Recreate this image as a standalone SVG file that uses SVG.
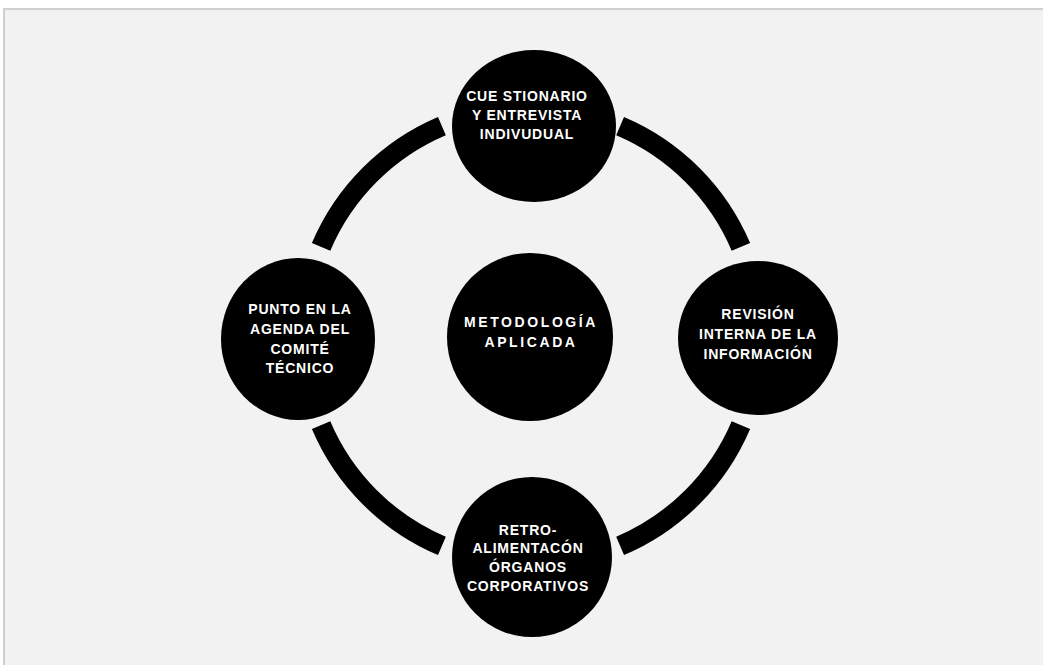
<svg xmlns="http://www.w3.org/2000/svg" width="1043" height="665" viewBox="0 0 1043 665">
<defs>
<style>
.node{fill:#000000;}
.lbl{font-family:"Liberation Sans",Arial,sans-serif;font-size:14px;font-weight:bold;fill:#ffffff;text-anchor:middle;letter-spacing:0.8px;}
.ctr{font-family:"Liberation Sans",Arial,sans-serif;font-size:14px;font-weight:bold;fill:#ffffff;text-anchor:middle;letter-spacing:2.6px;}
.arc{fill:none;stroke:#000000;stroke-width:20;stroke-linecap:butt;}
</style>
</defs>
<rect x="0" y="0" width="1043" height="665" fill="#ffffff"/>
<rect x="4" y="9" width="1045" height="660" fill="#f2f2f2" stroke="#cfcfcf" stroke-width="2"/>
<g id="connectors">
<path class="arc" d="M 740.9 425.1 A 228 228 0 0 1 620.1 545.9"/>
<path class="arc" d="M 441.9 545.9 A 228 228 0 0 1 321.1 425.1"/>
<path class="arc" d="M 321.1 246.9 A 228 228 0 0 1 441.9 126.1"/>
<path class="arc" d="M 620.1 126.1 A 228 228 0 0 1 740.9 246.9"/>
</g>
<g id="node-center">
<ellipse class="node" cx="530" cy="337" rx="83" ry="84"/>
<text class="ctr" x="531" y="327">METODOLOGÍA</text>
<text class="ctr" x="531" y="347">APLICADA</text>
</g>
<g id="node-top">
<ellipse class="node" cx="534" cy="126" rx="82" ry="76"/>
<text class="lbl" x="527" y="101">CUE STIONARIO</text>
<text class="lbl" x="527" y="120">Y ENTREVISTA</text>
<text class="lbl" x="527" y="139">INDIVUDUAL</text>
</g>
<g id="node-right">
<ellipse class="node" cx="758" cy="338" rx="80" ry="77"/>
<text class="lbl" x="758" y="319">REVISIÓN</text>
<text class="lbl" x="758" y="339">INTERNA DE LA</text>
<text class="lbl" x="758" y="359">INFORMACIÓN</text>
</g>
<g id="node-bottom">
<ellipse class="node" cx="532" cy="557" rx="80" ry="80"/>
<text class="lbl" x="528" y="535">RETRO-</text>
<text class="lbl" x="528" y="553">ALIMENTACÓN</text>
<text class="lbl" x="528" y="572">ÓRGANOS</text>
<text class="lbl" x="528" y="591">CORPORATIVOS</text>
</g>
<g id="node-left">
<ellipse class="node" cx="298" cy="339" rx="77" ry="81"/>
<text class="lbl" x="300" y="314">PUNTO EN LA</text>
<text class="lbl" x="300" y="334">AGENDA DEL</text>
<text class="lbl" x="300" y="354">COMITÉ</text>
<text class="lbl" x="300" y="373">TÉCNICO</text>
</g>
</svg>
